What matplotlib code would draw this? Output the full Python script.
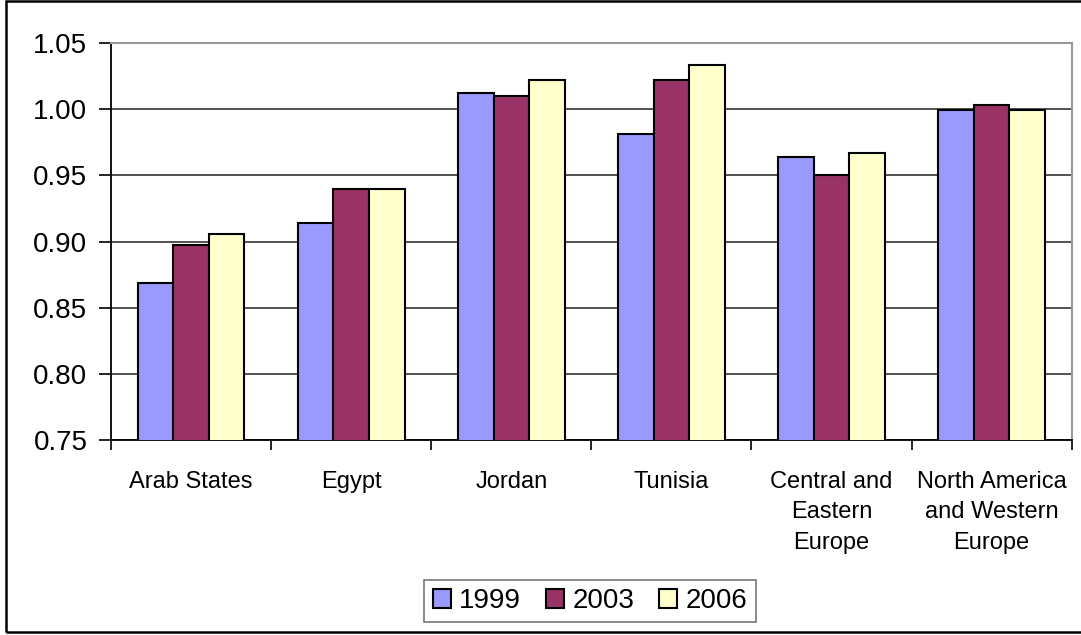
import matplotlib.pyplot as plt
import numpy as np
from matplotlib.patches import Rectangle

plt.rcParams['font.family'] = ['Liberation Sans', 'DejaVu Sans']

regions = ['Arab States', 'Egypt', 'Jordan', 'Tunisia',
           'Central and\nEastern\nEurope', 'North America\nand Western\nEurope']
years = ['1999', '2003', '2006']
gpi_1999 = [0.869, 0.914, 1.012, 0.981, 0.964, 0.999]
gpi_2003 = [0.897, 0.940, 1.010, 1.022, 0.950, 1.003]
gpi_2006 = [0.906, 0.940, 1.022, 1.033, 0.967, 0.999]
colors = ['#9999FF', '#993366', '#FFFFCC']

fig = plt.figure(figsize=(10.81, 6.35), dpi=100)
ax = fig.add_axes([111 / 1081, 1 - 440 / 635, (1071.7 - 111) / 1081, (440 - 43) / 635])

x = np.arange(len(regions))
width = 1 / 4.5
for i, (vals, c, lab) in enumerate(zip([gpi_1999, gpi_2003, gpi_2006], colors, years)):
    ax.bar(x + (i - 1) * width, vals, width, color=c, edgecolor='black',
           linewidth=1.5, label=lab, zorder=3)

ax.set_ylim(0.75, 1.05)
ax.set_xlim(-0.5, len(regions) - 0.5)
ax.set_yticks(np.arange(0.75, 1.051, 0.05))
ax.yaxis.set_major_formatter(plt.FormatStrFormatter('%.2f'))
ax.tick_params(axis='y', labelsize=20, length=9, width=1.2, direction='out', pad=8)
ax.yaxis.grid(True, color='#333333', linewidth=1.2, zorder=0)

ax.set_xticks(x)
ax.set_xticklabels(regions, fontsize=17, linespacing=1.5)
ax.tick_params(axis='x', length=0, pad=22)
ax.set_xticks(np.arange(-0.5, len(regions), 1), minor=True)
ax.tick_params(axis='x', which='minor', length=7, width=1.2)

for s in ['top', 'right']:
    ax.spines[s].set_color('#999999')
    ax.spines[s].set_linewidth(1.5)
for s in ['left', 'bottom']:
    ax.spines[s].set_color('black')
    ax.spines[s].set_linewidth(1.3)

leg = fig.legend(loc='center', bbox_to_anchor=(590 / 1081, 1 - 601 / 635), ncol=3,
                 fontsize=20, frameon=True, fancybox=False, handlelength=0.65,
                 handleheight=0.65, handletextpad=0.3, columnspacing=0.9,
                 borderpad=0.3)
leg.get_frame().set_edgecolor('#555555')
leg.get_frame().set_linewidth(1.2)

# outer chart frame
fig.patches.append(Rectangle((6 / 1081, 3 / 635), 1.2, 1 - 4 / 635,
                             transform=fig.transFigure, fill=False,
                             edgecolor='black', linewidth=1.8))

fig.savefig('out.png', dpi=100)
